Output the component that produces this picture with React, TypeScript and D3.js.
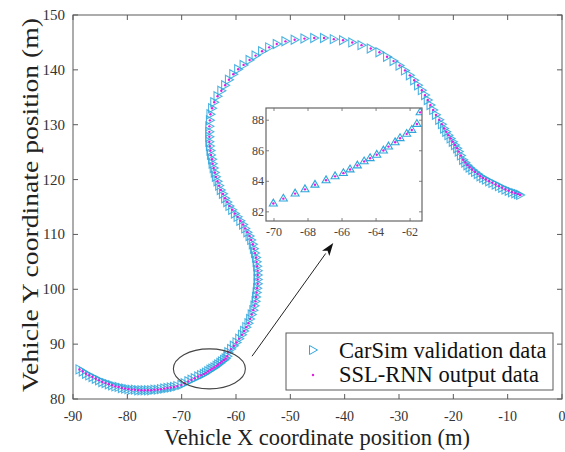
import React from 'react';
import * as d3 from 'd3';

const xTicks = [-90, -80, -70, -60, -50, -40, -30, -20, -10, 0];
const yTicks = [80, 90, 100, 110, 120, 130, 140, 150];
const insetXTicks = [-70, -68, -66, -64, -62];
const insetYTicks = [82, 84, 86, 88];
const legendLabels = ['CarSim validation data', 'SSL-RNN output data'];
const xLabel = 'Vehicle X coordinate position (m)';
const yLabel = 'Vehicle Y coordinate position (m)';

// CarSim validation trajectory (x, y) in metres
const carsimTrack: [number, number][] = [
  [-88.8, 85.4], [-88.2, 85.0], [-87.6, 84.6], [-87.0, 84.3], [-86.4, 84.0], [-85.8, 83.7],
  [-85.2, 83.4], [-84.6, 83.1], [-84.0, 82.9], [-83.4, 82.7], [-82.8, 82.5], [-82.2, 82.3],
  [-81.6, 82.2], [-81.0, 82.0], [-80.4, 81.9], [-79.8, 81.8], [-79.2, 81.7], [-78.6, 81.7],
  [-78.0, 81.6], [-77.4, 81.6], [-76.8, 81.6], [-76.2, 81.6], [-75.6, 81.6], [-75.0, 81.7],
  [-74.4, 81.7], [-73.8, 81.8], [-73.2, 81.9], [-72.6, 82.0], [-72.0, 82.1], [-71.4, 82.2],
  [-70.8, 82.35],
  [-70.04, 82.57], [-69.45, 82.89], [-68.76, 83.22], [-68.18, 83.5], [-67.59, 83.8],
  [-66.94, 84.09], [-66.41, 84.35], [-65.92, 84.56], [-65.53, 84.8], [-65.1, 85.06],
  [-64.7, 85.33], [-64.35, 85.54], [-63.96, 85.76], [-63.57, 86.04], [-63.27, 86.3],
  [-62.88, 86.58], [-62.59, 86.85], [-62.2, 87.13], [-61.9, 87.39], [-61.6, 87.78],
  [-61.41, 88.54],
  [-60.9, 89.1], [-60.4, 89.7], [-59.9, 90.3], [-59.4, 91.0], [-58.9, 91.7], [-58.5, 92.4],
  [-58.1, 93.1], [-57.7, 93.8], [-57.4, 94.6], [-57.1, 95.4], [-56.8, 96.2], [-56.6, 97.0],
  [-56.4, 97.8], [-56.3, 98.6], [-56.2, 99.4], [-56.1, 100.2], [-56.0, 101.0], [-56.0, 101.8],
  [-56.0, 102.6], [-56.0, 103.4], [-56.1, 104.2], [-56.2, 105.0], [-56.3, 105.8], [-56.5, 106.6],
  [-56.7, 107.4], [-56.9, 108.2], [-57.2, 109.0], [-57.5, 109.7], [-57.9, 110.4], [-58.3, 111.1],
  [-58.7, 111.8], [-59.2, 112.5], [-59.7, 113.2], [-60.2, 113.8], [-60.7, 114.5], [-61.2, 115.2],
  [-61.6, 115.9], [-62.0, 116.6], [-62.4, 117.4], [-62.8, 118.1], [-63.1, 118.9], [-63.4, 119.7],
  [-63.7, 120.5], [-63.9, 121.3], [-64.1, 122.1], [-64.3, 122.9], [-64.4, 123.7], [-64.6, 124.5],
  [-64.7, 125.3], [-64.8, 126.1], [-64.9, 126.9], [-64.9, 127.8], [-64.9, 128.7],
  [-64.9, 129.7], [-64.8, 130.8], [-64.7, 131.9], [-64.4, 133.0], [-64.0, 134.1], [-63.4, 135.2],
  [-62.7, 136.2], [-62.0, 137.2], [-61.3, 138.2], [-60.5, 139.2], [-59.6, 140.1], [-58.6, 140.9],
  [-57.5, 141.8], [-56.4, 142.6], [-55.2, 143.4], [-53.9, 144.1], [-52.5, 144.7], [-50.9, 145.2],
  [-49.2, 145.5], [-47.4, 145.7], [-45.6, 145.8], [-43.8, 145.8], [-42.0, 145.6], [-40.3, 145.4],
  [-38.6, 145.0], [-36.9, 144.5], [-35.2, 143.9], [-33.6, 143.2], [-32.2, 142.4], [-31.0, 141.6],
  [-29.9, 140.8], [-28.9, 139.9], [-28.0, 139.0], [-27.2, 138.1], [-26.5, 137.2], [-25.8, 136.3],
  [-25.2, 135.4], [-24.7, 134.5], [-24.2, 133.6], [-23.7, 132.7], [-23.2, 131.8], [-22.6, 130.9],
  [-22.1, 130.1], [-21.7, 129.3],
  [-21.3, 128.7], [-20.9, 128.1], [-20.5, 127.5], [-20.1, 126.9], [-19.7, 126.3], [-19.3, 125.7],
  [-19.0, 125.1], [-18.6, 124.4], [-18.2, 123.6], [-17.8, 123.1], [-17.4, 122.6], [-17.0, 122.2],
  [-16.5, 121.8], [-16.0, 121.4], [-15.5, 121.0], [-15.0, 120.6], [-14.5, 120.3], [-14.0, 120.0],
  [-13.4, 119.7], [-12.8, 119.4], [-12.2, 119.1], [-11.6, 118.8], [-11.0, 118.5], [-10.4, 118.2],
  [-9.8, 117.95], [-9.2, 117.7], [-8.6, 117.5], [-8.1, 117.35], [-7.7, 117.2],
];

// SSL-RNN output (coincides with the validation data at this resolution)
const sslTrack: [number, number][] = carsimTrack.map((d) => [d[0], d[1]]);

// annotation (data units)
const ellipseCenter: [number, number] = [-64.9, 85.5];
const arrowFrom: [number, number] = [-57.05, 87.8];
const arrowTo: [number, number] = [-42.1, 108.45];

const W = 565;
const H = 452;
const FONT = '"Liberation Serif", "Times New Roman", serif';
const BLUE = '#2ea6dc';
const MAGENTA = '#e31be3';
const AXIS = '#5a5a5a';

export default function App() {
  const x = d3.scaleLinear().domain([-90, 0]).range([73, 562]);
  const y = d3.scaleLinear().domain([80, 150]).range([399, 15]);
  const ix = d3.scaleLinear().domain([-70.47, -61.3]).range([266, 422]);
  const iy = d3.scaleLinear().domain([81.4, 88.8]).range([221, 108]);

  const [px0, px1] = x.range();
  const [py0, py1] = y.range();
  const [ipx0, ipx1] = ix.range();
  const [ipy0, ipy1] = iy.range();

  const triRight = (cx: number, cy: number) =>
    `M${cx - 3.5},${cy - 4.5}L${cx + 4.5},${cy}L${cx - 3.5},${cy + 4.5}Z`;
  const triUp = (cx: number, cy: number) =>
    `M${cx - 4},${cy + 2.8}L${cx},${cy - 4}L${cx + 4},${cy + 2.8}Z`;

  const inInset = (d: [number, number]) =>
    d[0] >= ix.domain()[0] && d[0] <= ix.domain()[1] && d[1] >= iy.domain()[0] && d[1] <= iy.domain()[1];
  const insetData = carsimTrack.filter(inInset);
  const insetSsl = sslTrack.filter(inInset);

  // arrow geometry
  const ax0 = x(arrowFrom[0]);
  const ay0 = y(arrowFrom[1]);
  const ax1 = x(arrowTo[0]);
  const ay1 = y(arrowTo[1]);
  const ang = Math.atan2(ay1 - ay0, ax1 - ax0);
  const headLen = 13;
  const headW = 4.5;
  const bx = ax1 - headLen * Math.cos(ang);
  const by = ay1 - headLen * Math.sin(ang);
  const nx = -Math.sin(ang);
  const ny = Math.cos(ang);
  const head = `M${ax1},${ay1}L${bx + nx * headW},${by + ny * headW}L${bx + (ax1 - bx) * 0.25},${by + (ay1 - by) * 0.25}L${bx - nx * headW},${by - ny * headW}Z`;

  return (
    <svg
      width={W}
      height={H}
      viewBox={`0 0 ${W} ${H}`}
      style={{ position: 'absolute', left: 0, top: 0, background: '#fff' }}
      fontFamily={FONT}
    >
      <rect x={0} y={0} width={W} height={H} fill="#fff" />

      {/* main data */}
      <g fill="none" stroke={BLUE} strokeWidth={1.1} strokeOpacity={0.85}>
        {carsimTrack.map((d, i) => (
          <path key={i} d={triRight(x(d[0]), y(d[1]))} />
        ))}
      </g>
      <g fill={MAGENTA}>
        {sslTrack.map((d, i) => (
          <circle key={i} cx={x(d[0])} cy={y(d[1])} r={1.2} />
        ))}
      </g>

      {/* main axes box */}
      <rect x={px0} y={py1} width={px1 - px0} height={py0 - py1} fill="none" stroke={AXIS} strokeWidth={1} />
      <g stroke={AXIS} strokeWidth={1}>
        {xTicks.map((t) => (
          <g key={t}>
            <line x1={x(t)} x2={x(t)} y1={py0} y2={py0 - 5} />
            <line x1={x(t)} x2={x(t)} y1={py1} y2={py1 + 5} />
          </g>
        ))}
        {yTicks.map((t) => (
          <g key={t}>
            <line x1={px0} x2={px0 + 5} y1={y(t)} y2={y(t)} />
            <line x1={px1} x2={px1 - 5} y1={y(t)} y2={y(t)} />
          </g>
        ))}
      </g>
      <g fill="#333" fontSize={14} textAnchor="middle">
        {xTicks.map((t) => (
          <text key={t} x={x(t)} y={421}>
            {t}
          </text>
        ))}
      </g>
      <g fill="#333" fontSize={15} textAnchor="end">
        {yTicks.map((t) => (
          <text key={t} x={px0 - 8} y={y(t) + 5}>
            {t}
          </text>
        ))}
      </g>

      {/* axis labels */}
      <text x={(px0 + px1) / 2 - 0.5} y={445} fontSize={22.5} textAnchor="middle" fill="#222">
        {xLabel}
      </text>
      <text
        transform={`translate(38,${(py0 + py1) / 2 - 2}) rotate(-90)`}
        fontSize={22.5}
        textAnchor="middle"
        fill="#222"
        textLength={374}
        lengthAdjust="spacingAndGlyphs"
      >
        {yLabel}
      </text>

      {/* inset */}
      <defs>
        <clipPath id="insetClip">
          <rect x={ipx0} y={ipy1} width={ipx1 - ipx0} height={ipy0 - ipy1} />
        </clipPath>
      </defs>
      <rect x={ipx0} y={ipy1} width={ipx1 - ipx0} height={ipy0 - ipy1} fill="#fff" />
      <g clipPath="url(#insetClip)">
        <g fill="none" stroke={BLUE} strokeWidth={1.1}>
          {insetData.map((d, i) => (
            <path key={i} d={triUp(ix(d[0]), iy(d[1]))} />
          ))}
        </g>
        <g fill={MAGENTA}>
          {insetSsl.map((d, i) => (
            <circle key={i} cx={ix(d[0])} cy={iy(d[1]) + 0.4} r={1.2} />
          ))}
        </g>
      </g>
      <rect x={ipx0} y={ipy1} width={ipx1 - ipx0} height={ipy0 - ipy1} fill="none" stroke="#666" strokeWidth={1.2} />
      <g stroke="#666" strokeWidth={0.8}>
        {insetXTicks.map((t) => (
          <g key={t}>
            <line x1={ix(t)} x2={ix(t)} y1={ipy0} y2={ipy0 - 3} />
            <line x1={ix(t)} x2={ix(t)} y1={ipy1} y2={ipy1 + 3} />
          </g>
        ))}
        {insetYTicks.map((t) => (
          <g key={t}>
            <line x1={ipx0} x2={ipx0 + 3} y1={iy(t)} y2={iy(t)} />
            <line x1={ipx1} x2={ipx1 - 3} y1={iy(t)} y2={iy(t)} />
          </g>
        ))}
      </g>
      <g fill="#444" fontSize={12} textAnchor="middle">
        {insetXTicks.map((t) => (
          <text key={t} x={ix(t)} y={ipy0 + 15}>
            {t}
          </text>
        ))}
      </g>
      <g fill="#444" fontSize={12} textAnchor="end">
        {insetYTicks.map((t) => (
          <text key={t} x={ipx0 - 2} y={iy(t) + 4}>
            {t}
          </text>
        ))}
      </g>

      {/* annotation */}
      <ellipse cx={x(ellipseCenter[0])} cy={y(ellipseCenter[1])} rx={36} ry={20} fill="none" stroke="#444" strokeWidth={1.1} />
      <line x1={ax0} y1={ay0} x2={bx} y2={by} stroke="#222" strokeWidth={1} />
      <path d={head} fill="#111" />

      {/* legend */}
      <rect x={286} y={333} width={267} height={57} fill="#fff" stroke={AXIS} strokeWidth={1} />
      <path d={triRight(313, 350)} fill="none" stroke={BLUE} strokeWidth={1} />
      <circle cx={313} cy={375} r={1.2} fill={MAGENTA} />
      <text x={339} y={357.5} fontSize={22.5} fill="#111">
        {legendLabels[0]}
      </text>
      <text x={339} y={382} fontSize={22.5} fill="#111">
        {legendLabels[1]}
      </text>
    </svg>
  );
}
